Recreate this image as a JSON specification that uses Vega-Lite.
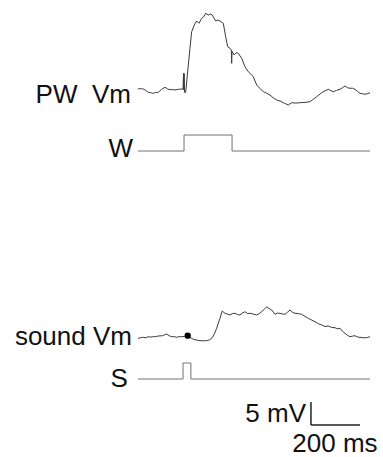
{
  "$schema": "https://vega.github.io/schema/vega-lite/v6.json",
  "width": 383,
  "height": 457,
  "padding": 0,
  "autosize": {"type": "none"},
  "background": "white",
  "config": {"view": {"stroke": null}},
  "datasets": {
    "pw": [
      {"t": 0, "v": 0.22}, {"t": 10, "v": 0.3}, {"t": 21.6, "v": 0.22}, {"t": 32, "v": -0.1}, {"t": 42, "v": -0.5},
      {"t": 52, "v": -0.6}, {"t": 62.4, "v": -0.72}, {"t": 72, "v": -0.55}, {"t": 82.9, "v": -0.5}, {"t": 96, "v": 0.1},
      {"t": 110.2, "v": 0.59}, {"t": 120, "v": 0.25}, {"t": 130.6, "v": 0.07}, {"t": 140, "v": 0.1}, {"t": 151, "v": 0},
      {"t": 165, "v": 0.15}, {"t": 178.4, "v": 0.22}, {"t": 184, "v": 0.2}, {"t": 186, "v": 3.6}, {"t": 187, "v": 0},
      {"t": 188.5, "v": 3.6}, {"t": 190, "v": -0.5}, {"t": 194.7, "v": -0.5}, {"t": 202.9, "v": 3.98}, {"t": 212.2, "v": 9.07},
      {"t": 219.2, "v": 12.67}, {"t": 229.8, "v": 14.13}, {"t": 239.6, "v": 15.0}, {"t": 249, "v": 14.5}, {"t": 260, "v": 15.59},
      {"t": 268, "v": 15.9}, {"t": 276.3, "v": 16.67}, {"t": 287, "v": 16.3}, {"t": 295, "v": 16.5}, {"t": 303.3, "v": 16.3},
      {"t": 317.1, "v": 15.0}, {"t": 326, "v": 15.2}, {"t": 334.7, "v": 15.0}, {"t": 348.2, "v": 14.5}, {"t": 358, "v": 11.59},
      {"t": 366.1, "v": 9.41}, {"t": 375.5, "v": 9.07}, {"t": 381, "v": 8.7}, {"t": 382.5, "v": 5.8}, {"t": 384, "v": 8.4},
      {"t": 393, "v": 7.61}, {"t": 401, "v": 8.1}, {"t": 409.4, "v": 7.98}, {"t": 423.3, "v": 6.89}, {"t": 436.7, "v": 5.07},
      {"t": 450.2, "v": 3.98}, {"t": 460, "v": 3.5}, {"t": 470.6, "v": 2.89}, {"t": 484.5, "v": 1.09}, {"t": 497, "v": 0.4},
      {"t": 511.4, "v": -0.37}, {"t": 525, "v": -0.7}, {"t": 538.8, "v": -1.09}, {"t": 552, "v": -1.7}, {"t": 566.1, "v": -2.17},
      {"t": 580, "v": -2.4}, {"t": 593, "v": -2.76}, {"t": 603, "v": -3.0}, {"t": 613.5, "v": -3.26}, {"t": 627.3, "v": -2.76},
      {"t": 645, "v": -2.85}, {"t": 661.2, "v": -2.76}, {"t": 682, "v": -2.7}, {"t": 702, "v": -2.54}, {"t": 716, "v": -2.0},
      {"t": 729.4, "v": -1.46}, {"t": 749.8, "v": -0.59}, {"t": 763, "v": -0.2}, {"t": 776.7, "v": 0.15}, {"t": 797.1, "v": -0.37},
      {"t": 810, "v": -0.1}, {"t": 824.5, "v": 0.15}, {"t": 835, "v": 0.5}, {"t": 844.9, "v": 0.87}, {"t": 855, "v": 0.5},
      {"t": 865.3, "v": 0.37}, {"t": 875, "v": 0.4}, {"t": 885.7, "v": 0.15}, {"t": 896, "v": -0.3}, {"t": 906.1, "v": -0.72},
      {"t": 926.5, "v": -0.93}, {"t": 937, "v": -0.8}, {"t": 946.9, "v": -0.59}
    ],
    "snd": [
      {"t": 0, "v": -0.07}, {"t": 10, "v": 0.05}, {"t": 21.6, "v": 0.15}, {"t": 32, "v": 0.05}, {"t": 42, "v": 0.28},
      {"t": 52, "v": 0.2}, {"t": 62.4, "v": 0.28}, {"t": 72, "v": 0.3}, {"t": 82.9, "v": 0.43}, {"t": 100, "v": 0.5},
      {"t": 117.1, "v": 0.87}, {"t": 127, "v": 0.5}, {"t": 137.6, "v": 0.28}, {"t": 148, "v": 0.3}, {"t": 158, "v": 0.15},
      {"t": 168, "v": 0.3}, {"t": 178.4, "v": 0.28}, {"t": 190, "v": 0.35}, {"t": 202.9, "v": 0.5}, {"t": 214, "v": 0.1},
      {"t": 225.7, "v": -0.28}, {"t": 240, "v": -0.45}, {"t": 253, "v": -0.59}, {"t": 267, "v": -0.6}, {"t": 280.4, "v": -0.59},
      {"t": 292, "v": -0.4}, {"t": 303.3, "v": 0.07}, {"t": 312, "v": 0.9}, {"t": 321.2, "v": 2.11}, {"t": 334.7, "v": 4.28},
      {"t": 344.1, "v": 5.87}, {"t": 355.1, "v": 5.37}, {"t": 365, "v": 5.2}, {"t": 375.5, "v": 5.0}, {"t": 385, "v": 5.3},
      {"t": 395.9, "v": 5.37}, {"t": 406, "v": 5.1}, {"t": 416.3, "v": 5.0}, {"t": 426, "v": 5.4}, {"t": 436.7, "v": 5.72},
      {"t": 447, "v": 5.3}, {"t": 457.1, "v": 5.37}, {"t": 470, "v": 5.2}, {"t": 484.5, "v": 5.0}, {"t": 495, "v": 5.3},
      {"t": 504.9, "v": 5.72}, {"t": 515, "v": 6.2}, {"t": 525.3, "v": 6.8}, {"t": 535, "v": 6.4}, {"t": 545.7, "v": 6.09},
      {"t": 559.2, "v": 5.15}, {"t": 569, "v": 5.4}, {"t": 579.6, "v": 5.37}, {"t": 590, "v": 5.2}, {"t": 600, "v": 5.15},
      {"t": 610, "v": 5.6}, {"t": 620.4, "v": 6.09}, {"t": 630, "v": 5.6}, {"t": 640.8, "v": 5.37}, {"t": 655, "v": 5.3},
      {"t": 668.2, "v": 5.15}, {"t": 682, "v": 4.7}, {"t": 695.1, "v": 4.28}, {"t": 709, "v": 3.9}, {"t": 722.4, "v": 3.54},
      {"t": 736, "v": 3.1}, {"t": 749.8, "v": 2.83}, {"t": 763, "v": 2.5}, {"t": 776.7, "v": 2.61}, {"t": 790, "v": 2.3},
      {"t": 804.1, "v": 2.24}, {"t": 814, "v": 2.0}, {"t": 824.5, "v": 2.11}, {"t": 834, "v": 1.5}, {"t": 844.9, "v": 1.02},
      {"t": 855, "v": 0.6}, {"t": 865.3, "v": 0.28}, {"t": 875, "v": 0.4}, {"t": 885.7, "v": 0.5}, {"t": 896, "v": 0.2},
      {"t": 906.1, "v": 0.15}, {"t": 920, "v": 0.05}, {"t": 933.4, "v": 0.07}, {"t": 946.9, "v": 0.28}
    ],
    "w": [{"t": 0, "v": 0}, {"t": 188, "v": 1}, {"t": 384, "v": 0}, {"t": 947, "v": 0}],
    "s": [{"t": 0, "v": 0}, {"t": 184, "v": 1}, {"t": 216, "v": 0}, {"t": 947, "v": 0}]
  },
  "resolve": {"scale": {"y": "independent"}},
  "layer": [
    {
      "layer": [
        {
          "data": {"name": "pw"},
          "mark": {"type": "line", "color": "#3a3a3a", "strokeWidth": 1},
          "encoding": {
            "x": {"field": "t", "type": "quantitative", "scale": {"domain": [-563, 1000], "nice": false, "zero": false}, "axis": null},
            "y": {"field": "v", "type": "quantitative", "scale": {"domain": [-79.783, 19.565], "nice": false, "zero": false}, "axis": null}
          }
        },
        {
          "data": {"values": [{"t": 0, "v": 0, "label": "PW\u00a0 Vm"}]},
          "mark": {"type": "text", "align": "right", "baseline": "alphabetic", "dx": -7, "dy": 13, "font": "Liberation Sans", "fontSize": 26, "color": "#111"},
          "encoding": {
            "x": {"field": "t", "type": "quantitative", "scale": {"domain": [-563, 1000], "nice": false, "zero": false}, "axis": null},
            "y": {"field": "v", "type": "quantitative", "scale": {"domain": [-79.783, 19.565], "nice": false, "zero": false}, "axis": null},
            "text": {"field": "label"}
          }
        }
      ]
    },
    {
      "layer": [
        {
          "data": {"name": "w"},
          "mark": {"type": "line", "color": "#707070", "strokeWidth": 1, "interpolate": "step-after"},
          "encoding": {
            "x": {"field": "t", "type": "quantitative", "scale": {"domain": [-563, 1000], "nice": false, "zero": false}, "axis": null},
            "y": {"field": "v", "type": "quantitative", "scale": {"domain": [-19.125, 9.4375], "nice": false, "zero": false}, "axis": null}
          }
        },
        {
          "data": {"values": [{"t": 0, "v": 0, "label": "W"}]},
          "mark": {"type": "text", "align": "right", "baseline": "alphabetic", "dx": -5, "dy": 6, "font": "Liberation Sans", "fontSize": 26, "color": "#111"},
          "encoding": {
            "x": {"field": "t", "type": "quantitative", "scale": {"domain": [-563, 1000], "nice": false, "zero": false}, "axis": null},
            "y": {"field": "v", "type": "quantitative", "scale": {"domain": [-19.125, 9.4375], "nice": false, "zero": false}, "axis": null},
            "text": {"field": "label"}
          }
        }
      ]
    },
    {
      "layer": [
        {
          "data": {"name": "snd"},
          "mark": {"type": "line", "color": "#3a3a3a", "strokeWidth": 1},
          "encoding": {
            "x": {"field": "t", "type": "quantitative", "scale": {"domain": [-563, 1000], "nice": false, "zero": false}, "axis": null},
            "y": {"field": "v", "type": "quantitative", "scale": {"domain": [-25.87, 73.478], "nice": false, "zero": false}, "axis": null}
          }
        },
        {
          "data": {"values": [{"t": 203, "v": 0.5}]},
          "mark": {"type": "point", "filled": true, "size": 40, "color": "#000", "opacity": 1},
          "encoding": {
            "x": {"field": "t", "type": "quantitative", "scale": {"domain": [-563, 1000], "nice": false, "zero": false}, "axis": null},
            "y": {"field": "v", "type": "quantitative", "scale": {"domain": [-25.87, 73.478], "nice": false, "zero": false}, "axis": null}
          }
        },
        {
          "data": {"values": [{"t": 0, "v": 0, "label": "sound Vm"}]},
          "mark": {"type": "text", "align": "right", "baseline": "alphabetic", "dx": -6, "dy": 7, "font": "Liberation Sans", "fontSize": 26, "color": "#111"},
          "encoding": {
            "x": {"field": "t", "type": "quantitative", "scale": {"domain": [-563, 1000], "nice": false, "zero": false}, "axis": null},
            "y": {"field": "v", "type": "quantitative", "scale": {"domain": [-25.87, 73.478], "nice": false, "zero": false}, "axis": null},
            "text": {"field": "label"}
          }
        }
      ]
    },
    {
      "layer": [
        {
          "data": {"name": "s"},
          "mark": {"type": "line", "color": "#707070", "strokeWidth": 1, "interpolate": "step-after"},
          "encoding": {
            "x": {"field": "t", "type": "quantitative", "scale": {"domain": [-563, 1000], "nice": false, "zero": false}, "axis": null},
            "y": {"field": "v", "type": "quantitative", "scale": {"domain": [-4.875, 23.6875], "nice": false, "zero": false}, "axis": null}
          }
        },
        {
          "data": {"values": [{"t": 0, "v": 0, "label": "S"}]},
          "mark": {"type": "text", "align": "right", "baseline": "alphabetic", "dx": -10, "dy": 8, "font": "Liberation Sans", "fontSize": 26, "color": "#111"},
          "encoding": {
            "x": {"field": "t", "type": "quantitative", "scale": {"domain": [-563, 1000], "nice": false, "zero": false}, "axis": null},
            "y": {"field": "v", "type": "quantitative", "scale": {"domain": [-4.875, 23.6875], "nice": false, "zero": false}, "axis": null},
            "text": {"field": "label"}
          }
        }
      ]
    },
    {
      "layer": [
        {
          "data": {"values": [{"t": 706, "t2": 706, "v": 0, "v2": 5}, {"t": 706, "t2": 906, "v": 0, "v2": 0}]},
          "mark": {"type": "rule", "color": "#222", "strokeWidth": 1.5},
          "encoding": {
            "x": {"field": "t", "type": "quantitative", "scale": {"domain": [-563, 1000], "nice": false, "zero": false}, "axis": null},
            "x2": {"field": "t2"},
            "y": {"field": "v", "type": "quantitative", "scale": {"domain": [-6.957, 92.391], "nice": false, "zero": false}, "axis": null},
            "y2": {"field": "v2"}
          }
        },
        {
          "data": {"values": [{"t": 686, "v": 0.65, "label": "5 mV"}]},
          "mark": {"type": "text", "align": "right", "baseline": "alphabetic", "font": "Liberation Sans", "fontSize": 26, "color": "#111"},
          "encoding": {
            "x": {"field": "t", "type": "quantitative", "scale": {"domain": [-563, 1000], "nice": false, "zero": false}, "axis": null},
            "y": {"field": "v", "type": "quantitative", "scale": {"domain": [-6.957, 92.391], "nice": false, "zero": false}, "axis": null},
            "text": {"field": "label"}
          }
        },
        {
          "data": {"values": [{"t": 804, "v": -5.9, "label": "200 ms"}]},
          "mark": {"type": "text", "align": "center", "baseline": "alphabetic", "font": "Liberation Sans", "fontSize": 26, "color": "#111"},
          "encoding": {
            "x": {"field": "t", "type": "quantitative", "scale": {"domain": [-563, 1000], "nice": false, "zero": false}, "axis": null},
            "y": {"field": "v", "type": "quantitative", "scale": {"domain": [-6.957, 92.391], "nice": false, "zero": false}, "axis": null},
            "text": {"field": "label"}
          }
        }
      ]
    }
  ]
}
